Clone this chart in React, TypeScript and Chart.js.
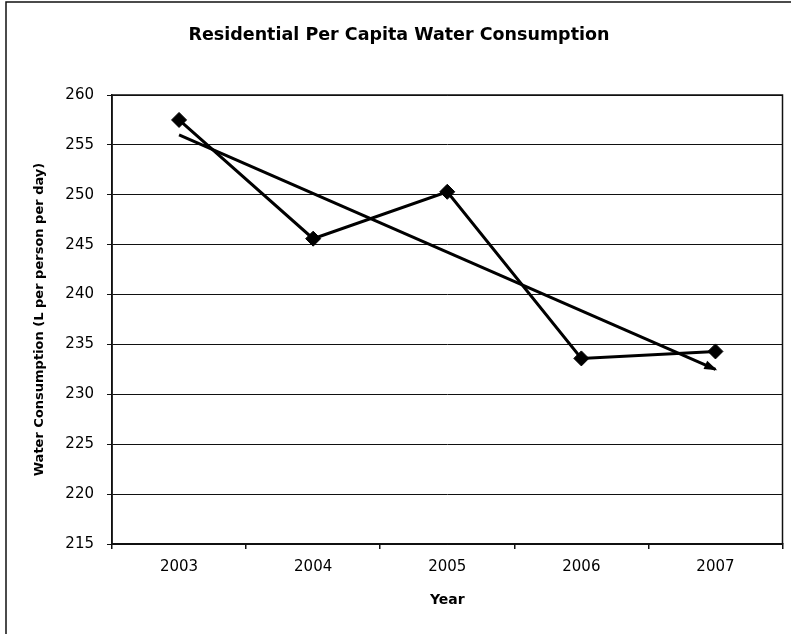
import { useEffect, useRef } from "react";
import { Chart, registerables } from "chart.js";

Chart.register(...registerables);

const years = ["2003", "2004", "2005", "2006", "2007"];
const consumption = [257.5, 245.6, 250.3, 233.6, 234.3];
const trend: (number | null)[] = [256.0, null, null, null, 232.5];
const yMin = 215;
const yMax = 260;
const yStep = 5;
const chartTitle = "Residential Per Capita Water Consumption";
const xTitle = "Year";
const yTitle = "Water Consumption (L per person per day)";

const FONT = "'DejaVu Sans', 'Liberation Sans', Arial, sans-serif";

const framePlugin = {
  id: "frame",
  beforeDraw(chart: any) {
    const ctx = chart.ctx;
    ctx.save();
    ctx.fillStyle = "#fff";
    ctx.fillRect(0, 0, chart.width, chart.height);
    ctx.strokeStyle = "#111";
    ctx.lineWidth = 1.5;
    ctx.beginPath();
    ctx.moveTo(6, chart.height);
    ctx.lineTo(6, 2);
    ctx.lineTo(chart.width, 2);
    ctx.stroke();
    ctx.restore();
  },
  afterDatasetsDraw(chart: any) {
    const ctx = chart.ctx;
    const { left, top, right, bottom } = chart.chartArea;
    ctx.save();
    ctx.strokeStyle = "#111";
    ctx.lineWidth = 1.5;
    ctx.strokeRect(left, top, right - left, bottom - top);
    // arrowhead on trend line end
    const meta = chart.getDatasetMeta(1);
    const pts = meta.data.filter((p: any) => !p.skip && Number.isFinite(p.y));
    if (pts.length >= 2) {
      const a = pts[pts.length - 2];
      const b = pts[pts.length - 1];
      const ang = Math.atan2(b.y - a.y, b.x - a.x);
      const len = 11;
      const hw = 4.5;
      ctx.fillStyle = "#000";
      ctx.beginPath();
      ctx.moveTo(b.x + Math.cos(ang) * 2, b.y + Math.sin(ang) * 2);
      ctx.lineTo(
        b.x - Math.cos(ang) * len - Math.sin(ang) * hw,
        b.y - Math.sin(ang) * len + Math.cos(ang) * hw
      );
      ctx.lineTo(
        b.x - Math.cos(ang) * len + Math.sin(ang) * hw,
        b.y - Math.sin(ang) * len - Math.cos(ang) * hw
      );
      ctx.closePath();
      ctx.fill();
    }
    ctx.restore();
  },
};

export default function App() {
  const ref = useRef<HTMLCanvasElement>(null);

  useEffect(() => {
    const chart = new Chart(ref.current!, {
      type: "line",
      data: {
        labels: years,
        datasets: [
          {
            label: "Consumption",
            data: consumption,
            borderColor: "#000",
            backgroundColor: "#000",
            borderWidth: 3,
            pointStyle: "rectRot",
            pointRadius: 7.5,
            pointBorderWidth: 1,
            pointBackgroundColor: "#000",
            pointBorderColor: "#000",
            tension: 0,
            order: 1,
          },
          {
            label: "Trend",
            data: trend,
            borderColor: "#000",
            borderWidth: 3,
            pointRadius: 0,
            spanGaps: true,
            tension: 0,
            order: 2,
          },
        ],
      },
      options: {
        responsive: false,
        animation: false,
        layout: { padding: { left: 14, right: 7, top: 0, bottom: 0 } },
        plugins: {
          legend: { display: false },
          tooltip: { enabled: false },
          title: {
            display: true,
            text: chartTitle,
            color: "#000",
            font: { family: FONT, size: 17.5, weight: "bold" },
            padding: { top: 24.5, bottom: 49.5 },
          },
        },
        scales: {
          x: {
            type: "category",
            offset: true,
            grid: {
              offset: true,
              drawOnChartArea: false,
              drawTicks: true,
              tickLength: 5,
              color: "#111",
              lineWidth: 1.5,
            },
            border: { display: true, color: "#111", width: 1.5 },
            ticks: {
              color: "#000",
              font: { family: FONT, size: 15 },
              padding: 9,
              maxRotation: 0,
            },
            title: {
              display: true,
              text: xTitle,
              color: "#000",
              font: { family: FONT, size: 14, weight: "bold" },
              padding: { top: 0, bottom: 25.6 },
            },
            afterFit: (s: any) => {
              s.height = 90;
            },
          },
          y: {
            min: yMin,
            max: yMax,
            ticks: {
              stepSize: yStep,
              color: "#000",
              font: { family: FONT, size: 15 },
              padding: 13,
            },
            grid: {
              color: "#111",
              lineWidth: 1,
              drawTicks: true,
              tickLength: 5,
            },
            border: { display: true, color: "#111", width: 1.5 },
            title: {
              display: true,
              text: yTitle,
              color: "#000",
              font: { family: FONT, size: 13, weight: "bold" },
              padding: { top: 18.2, bottom: 0 },
            },
            afterFit: (s: any) => {
              s.width = 98;
            },
          },
        },
      },
      plugins: [framePlugin],
    } as any);
    return () => chart.destroy();
  }, []);

  return (
    <div
      style={{
        position: "fixed",
        left: 0,
        top: 0,
        width: 791,
        height: 634,
        background: "#fff",
      }}
    >
      <canvas
        ref={ref}
        width={791}
        height={634}
        style={{ display: "block", width: 791, height: 634 }}
      />
    </div>
  );
}
